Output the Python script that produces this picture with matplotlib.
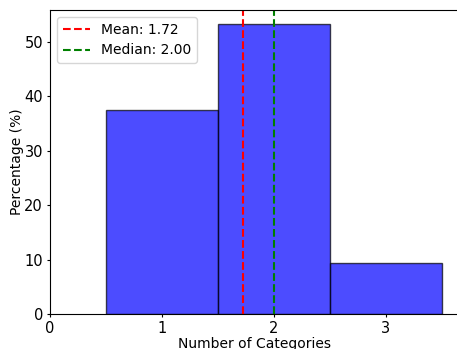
import matplotlib
matplotlib.use("Agg")
import matplotlib.pyplot as plt
import numpy as np

categories = [1, 2, 3]
percentages = [37.5, 53.125, 9.375]
mean_val = 1.72
median_val = 2.00

plt.rcParams['font.size'] = 10
fig = plt.figure(figsize=(4.57, 3.49), dpi=100)
ax = fig.add_axes([50/457, 1-314/349, 408.8/457, 304/349])
ax.bar(categories, percentages, width=1.0, color='blue', alpha=0.7, edgecolor='black')
ax.axvline(mean_val, color='red', linestyle='--', label=f'Mean: {mean_val:.2f}')
ax.axvline(median_val, color='green', linestyle='--', label=f'Median: {median_val:.2f}')
ax.set_xlim(0, 3.65)
ax.set_ylim(0, max(percentages) * 1.05)
ax.set_xticks([0, 1, 2, 3])
ax.tick_params(length=2.5, pad=2.5, labelsize=10.5)
ax.set_xlabel('Number of Categories', labelpad=0.5)
ax.set_ylabel('Percentage (%)', labelpad=0)
ax.legend(loc='upper left')
fig.savefig('out.png', dpi=100)
